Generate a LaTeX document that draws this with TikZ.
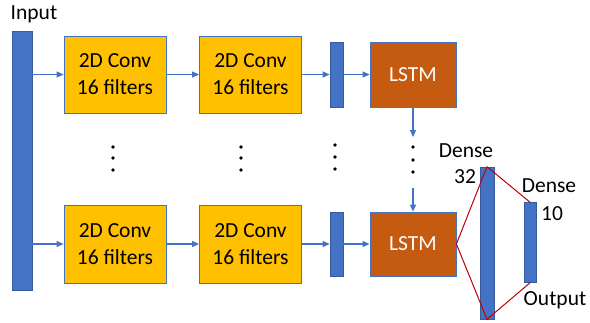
\documentclass[tikz,border=0pt]{standalone}
\usepackage{fontspec}
\setmainfont{Carlito}
\usetikzlibrary{arrows.meta}
\definecolor{bblue}{HTML}{4472C4}
\definecolor{conv}{HTML}{FFC000}
\definecolor{lstm}{HTML}{C55A11}
\definecolor{dred}{HTML}{C00000}
\begin{document}
\begin{tikzpicture}[x=1pt,y=-1pt,
  bar/.style={draw=bblue!80!black,fill=bblue,line width=0.6pt,inner sep=0pt,minimum width=#1},
  convbox/.style={draw=bblue,fill=conv,line width=0.8pt,minimum width=102pt,minimum height=77pt,inner sep=0pt,align=center,font=\fontsize{21.5}{27}\selectfont},
  lstmbox/.style={draw=bblue,fill=lstm,line width=0.8pt,minimum width=86pt,minimum height=65pt,inner sep=0pt,text=white,font=\fontsize{21.5}{27}\selectfont},
  lbl/.style={inner sep=0pt,font=\fontsize{21.5}{27}\selectfont},
  arr/.style={draw=bblue,line width=1.1pt,-{Triangle[length=7pt,width=6pt]}},
  dotc/.style={fill=black,circle,inner sep=0pt,minimum size=3.8pt},
  redl/.style={draw=dred,line width=1pt}]
\useasboundingbox (0,0) rectangle (590,322);
% input
\node[bar=20pt,minimum height=259pt] (in) at (22,160.5) {};
\node[lbl] (inl) at (34,14) {Input};
% top row
\node[convbox] (c1) at (115,74.5) {2D Conv\\16 filters};
\node[convbox] (c2) at (250.5,74.5) {2D Conv\\16 filters};
\node[bar=13pt,minimum height=65pt] (b1) at (336.5,74.5) {};
\node[lstmbox] (l1) at (413,74.5) {LSTM};
% bottom row
\node[convbox,minimum height=78pt] (c3) at (115,244) {2D Conv\\16 filters};
\node[convbox,minimum height=78pt] (c4) at (250.5,244) {2D Conv\\16 filters};
\node[bar=13pt,minimum height=64pt] (b2) at (336.5,244) {};
\node[lstmbox,minimum height=64pt] (l2) at (413,244) {LSTM};
% dense
\node[bar=14pt,minimum height=152pt] (d32) at (487,243) {};
\node[bar=12pt,minimum height=80pt] (d10) at (530,242.5) {};
\node[lbl] (dl1) at (466,151) {Dense};
\node[lbl] (dl2) at (465,177) {32};
\node[lbl] (dl3) at (549,186) {Dense};
\node[lbl] (dl4) at (552,214) {10};
\node[lbl] (ol) at (555,300) {Output};
% arrows
\draw[arr] (in.east |- c1.west) -- (c1.west);
\draw[arr] (c1) -- (c2);
\draw[arr] (c2.east) -- (b1.west |- c2.east);
\draw[arr] (b1.east) -- (l1.west);
\draw[arr] (in.east |- c3.west) -- (c3.west);
\draw[arr] (c3) -- (c4);
\draw[arr] (c4.east) -- (b2.west |- c4.east);
\draw[arr] (b2.east) -- (l2.west);
\coordinate (l1end) at (413,137);
\coordinate (l2start) at (413,188);
\draw[arr] (l1.south) -- (l1end);
\draw[arr] (l2start) -- (l2.north);
% dots
\foreach \x/\a/\b/\c in {113/147/158/170, 241/147/158/170, 335/145/157/169, 413/147/160/172}{
  \node[dotc] at (\x,\a) {};
  \node[dotc] at (\x,\b) {};
  \node[dotc] at (\x,\c) {};
}
% red lines
\draw[redl] (l2.east) -- (d32.north);
\draw[redl] (l2.east) -- (d32.south);
\draw[redl] (d32.north) -- (d10.north);
\draw[redl] (d32.south) -- (d10.south);
\end{tikzpicture}
\end{document}
